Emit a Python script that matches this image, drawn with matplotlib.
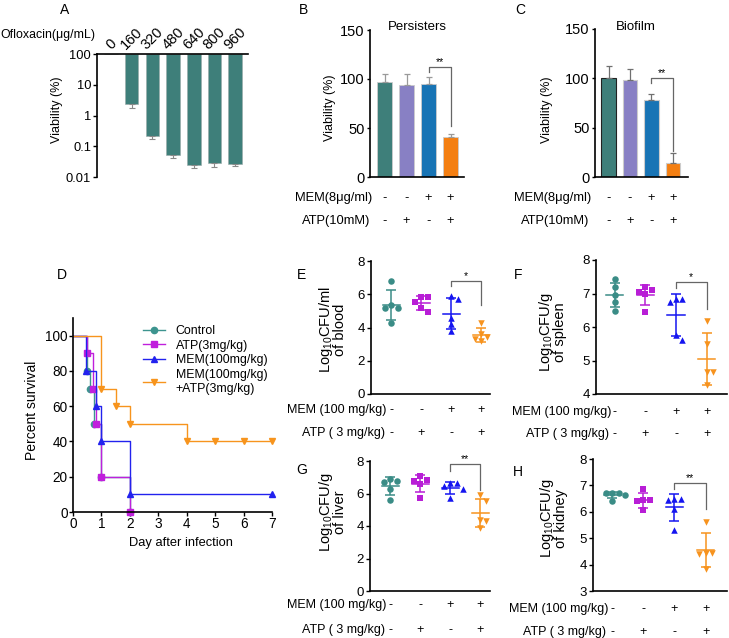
import numpy as np
import matplotlib
matplotlib.use('Agg')
import matplotlib.pyplot as plt
import matplotlib.transforms as mtransforms
from matplotlib.lines import Line2D

plt.rcParams['font.family'] = ['Liberation Sans', 'DejaVu Sans']
plt.rcParams['font.size'] = 9
plt.rcParams['mathtext.fontset'] = 'custom'
plt.rcParams['mathtext.rm'] = 'Liberation Sans'
plt.rcParams['mathtext.it'] = 'Liberation Sans:italic'
plt.rcParams['axes.linewidth'] = 1.2
for a in ('xtick', 'ytick'):
    plt.rcParams[a + '.major.width'] = 1.0
    plt.rcParams[a + '.major.size'] = 3.0
    plt.rcParams[a + '.direction'] = 'out'
    plt.rcParams[a + '.major.pad'] = 1.2

# ---------------- DATA ----------------
# Panel A
oflox_conc = ['0', '160', '320', '480', '640', '800', '960']
oflox_viab = [100, 2.3, 0.21, 0.051, 0.0245, 0.028, 0.026]
oflox_low = [100, 1.75, 0.17, 0.043, 0.019, 0.021, 0.022]

# Panels B, C
pers_viab = [97, 93.6, 95.3, 40.8]
pers_err = [8.5, 11.2, 6.7, 2.7]
bio_viab = [100.3, 98, 77.7, 14.2]
bio_err = [12.7, 11, 6.1, 10.1]
mem_signs = ['-', '-', '+', '+']
atp_signs = ['-', '+', '-', '+']

# Panel D (Kaplan-Meier)
km_labels = ['Control', 'ATP(3mg/kg)', 'MEM(100mg/kg)', 'MEM(100mg/kg)\n+ATP(3mg/kg)']
ctrl_t = [0, 0.5, 0.6, 0.75, 1, 2]
ctrl_s = [100, 80, 70, 50, 20, 0]
atp_t = [0, 0.5, 0.72, 0.82, 1, 2]
atp_s = [100, 90, 70, 50, 20, 0]
mem_t = [0, 0.45, 0.8, 1, 2, 7]
mem_s = [100, 80, 60, 40, 10, 10]
combo_t = [0, 1, 1.5, 2, 4, 5, 6, 7]
combo_s = [100, 70, 60, 50, 40, 40, 40, 40]

# Panels E-H (log10 CFU, 5 mice per group)
blood = [[6.78, 5.35, 5.15, 5.15, 4.3],
         [5.85, 5.85, 5.55, 5.15, 4.95],
         [5.9, 5.7, 4.6, 4.2, 3.8],
         [4.3, 3.6, 3.4, 3.3, 3.2]]
spleen = [[7.43, 7.18, 6.95, 6.76, 6.48],
          [7.2, 7.1, 7.05, 7.0, 6.45],
          [6.85, 6.85, 6.75, 5.75, 5.6],
          [6.18, 5.5, 4.65, 4.65, 4.27]]
liver = [[6.9, 6.8, 6.7, 6.3, 5.6],
         [7.05, 6.85, 6.75, 6.6, 5.7],
         [6.65, 6.65, 6.45, 6.3, 5.75],
         [5.9, 5.55, 4.35, 4.3, 3.9]]
kidney = [[6.72, 6.72, 6.7, 6.62, 6.42],
          [6.85, 6.45, 6.45, 6.4, 6.05],
          [6.5, 6.5, 6.45, 6.1, 5.3],
          [5.62, 4.45, 4.45, 4.4, 3.85]]
mouse_mem_signs = ['-', '-', '+', '+']
mouse_atp_signs = ['-', '+', '-', '+']

# ---------------- STYLE ----------------
bar_cols = ['#3e7f7a', '#8880c4', '#1874b5', '#f47f12']
km_cols = ['#3d948f', '#c01fdc', '#2222ee', '#f7941d']
km_markers = ['o', 's', '^', 'v']
sc_cols = ['#3a8c86', '#b81ed6', '#1515f0', '#f7931e']
sc_markers = ['o', 's', '^', 'v']

W, H = 729, 638
fig = plt.figure(figsize=(W / 100, H / 100), dpi=100)


def add_ax(l, t, r, b):
    return fig.add_axes([l / W, 1 - b / H, (r - l) / W, (b - t) / H])


def ftext(x, y, s, **kw):
    return fig.text(x / W, 1 - y / H, s, **kw)


def style(ax):
    ax.spines['top'].set_visible(False)
    ax.spines['right'].set_visible(False)


def bracket(ax, x1, x2, ytop, yl, yr, txt):
    ax.plot([x1, x1, x2, x2], [yl, ytop, ytop, yr], color='#666666', lw=0.9,
            clip_on=False)
    ax.text((x1 + x2) / 2, ytop, txt, ha='center', va='bottom', fontsize=7.5)


def sign_rows(ax, rows, names, ys_px, label_right_px, fs=9):
    tr = mtransforms.blended_transform_factory(ax.transData, fig.transFigure)
    for signs, name, ypx, rpx in zip(rows, names, ys_px, label_right_px):
        ftext(rpx, ypx, name, ha='right', va='center', fontsize=fs)
        for i, s in enumerate(signs):
            ax.text(i, 1 - ypx / H, s, transform=tr, ha='center', va='center', fontsize=fs)


# ---------------- PANEL A ----------------
axA = add_ax(97, 54, 248, 177)
xA = np.arange(len(oflox_conc))
vA = np.array(oflox_viab)
axA.set_yscale('log')
axA.bar(xA, vA - 100, bottom=100, width=0.65, color=bar_cols[0],
        edgecolor='#9aa9a8', lw=0.4)
axA.errorbar(xA[1:], vA[1:], yerr=[vA[1:] - np.array(oflox_low[1:]), np.zeros(len(vA) - 1)],
             fmt='none', ecolor='#8a8a8a', elinewidth=0.8, capsize=2.5, capthick=0.8)
axA.set_ylim(0.01, 100)
axA.set_xlim(-0.68, 6.62)
axA.spines['bottom'].set_visible(False)
axA.spines['right'].set_visible(False)
axA.xaxis.tick_top()
axA.set_xticks(xA)
axA.set_xticklabels(oflox_conc, rotation=45, ha='center', va='bottom', fontsize=10.5)
axA.tick_params(axis='x', length=0, pad=1)
axA.set_yticks([0.01, 0.1, 1, 10, 100])
axA.set_yticklabels(['0.01', '0.1', '1', '10', '100'])
axA.yaxis.set_minor_locator(matplotlib.ticker.NullLocator())
axA.tick_params(axis='y', labelsize=9.3)
ftext(57, 110, 'Viability (%)', rotation=90, ha='center', va='center', fontsize=9)
ftext(95, 35, 'Ofloxacin(μg/mL)', ha='right', va='center', fontsize=8.9)
ftext(65, 10, 'A', ha='center', va='center', fontsize=10)

# ---------------- PANEL B ----------------
axB = add_ax(370, 30, 464, 177)
style(axB)
xB = np.arange(4)
axB.bar(xB, pers_viab, width=0.68, color=bar_cols, edgecolor='#cccccc', lw=0.6)
axB.errorbar(xB, pers_viab, yerr=[np.zeros(4), pers_err], fmt='none',
             ecolor='#9a9a9a', elinewidth=0.9, capsize=2.5, capthick=0.9)
axB.set_ylim(0, 150)
axB.set_xlim(-0.66, 3.61)
axB.set_yticks([0, 50, 100, 150])
axB.set_xticks([])
axB.tick_params(axis='y', labelsize=10.5, length=2.5)
bracket(axB, 2, 3, 112.5, 107, 52, '**')
ftext(330, 108, 'Viability (%)', rotation=90, ha='center', va='center', fontsize=9)
ftext(417, 27, 'Persisters', ha='center', va='center', fontsize=9.5)
ftext(303, 10, 'B', ha='center', va='center', fontsize=10)
sign_rows(axB, [mem_signs, atp_signs], ['MEM(8μg/ml)', 'ATP(10mM)'], [198, 221], [372, 370], fs=9.3)

# ---------------- PANEL C ----------------
axC = add_ax(595, 29, 688, 177)
style(axC)
axC.bar(xB, bio_viab, width=0.68, color=bar_cols,
        edgecolor=['#222222', '#cccccc', '#cccccc', '#cccccc'], lw=0.8)
axC.errorbar(xB, bio_viab, yerr=[np.zeros(4), bio_err], fmt='none',
             ecolor='#707070', elinewidth=0.9, capsize=2.5, capthick=0.9)
axC.set_ylim(0, 150)
axC.set_xlim(-0.63, 3.7)
axC.set_yticks([0, 50, 100, 150])
axC.set_xticks([])
axC.tick_params(axis='y', labelsize=10.5, length=2.5)
bracket(axC, 2, 3, 100.3, 95, 26, '**')
ftext(547, 110, 'Viability (%)', rotation=90, ha='center', va='center', fontsize=9)
ftext(636, 27, 'Biofilm', ha='center', va='center', fontsize=9.5)
ftext(520, 10, 'C', ha='center', va='center', fontsize=10)
sign_rows(axC, [mem_signs, atp_signs], ['MEM(8μg/ml)', 'ATP(10mM)'], [198, 221], [591, 589], fs=9.3)

# ---------------- PANEL D ----------------
axD = add_ax(73, 318, 272, 512)
style(axD)
handles = []
for t, s, c, m, lab in zip([ctrl_t, atp_t, mem_t, combo_t], [ctrl_s, atp_s, mem_s, combo_s],
                           km_cols, km_markers, km_labels):
    axD.step(t, s, where='post', color=c, lw=1.0, clip_on=False)
    axD.plot(t[1:], s[1:], ls='none', marker=m, color=c, ms=4.5, clip_on=False)
    handles.append(Line2D([], [], color=c, lw=1.0, marker=m, ms=4.5))
axD.set_xlim(0, 7)
axD.set_ylim(0, 110)
axD.set_xticks(range(8))
axD.set_yticks(range(0, 101, 20))
axD.tick_params(labelsize=9.8, pad=0.8)
axD.legend(handles, km_labels, loc='upper left', bbox_to_anchor=(143 / W, 1 - 325 / H),
           bbox_transform=fig.transFigure, frameon=False, fontsize=8.9,
           handlelength=1.8, handletextpad=0.85, labelspacing=0.22, borderpad=0,
           borderaxespad=0)
ftext(32, 410, 'Percent survival', rotation=90, ha='center', va='center', fontsize=10)
ftext(181, 543, 'Day after infection', ha='center', va='center', fontsize=9.3)
ftext(62, 275, 'D', ha='center', va='center', fontsize=10)


# ---------------- PANELS E-H ----------------
def swarm_x(ax, xc, vals, d_px=6.4):
    pts = ax.transData.transform(np.column_stack([np.full(len(vals), xc), vals]))
    order = np.argsort(-np.asarray(vals))
    placed = []
    xs = np.zeros(len(vals))
    for i in order:
        y = pts[i, 1]
        chosen = pts[i, 0]
        for k in [0, 1, -1, 2, -2, 3, -3]:
            cand = pts[i, 0] + k * d_px
            if all((cand - px) ** 2 + (y - py) ** 2 >= (d_px * 0.95) ** 2 for px, py in placed):
                chosen = cand
                break
        placed.append((chosen, y))
        xs[i] = chosen
    back = ax.transData.inverted().transform(np.column_stack([xs, pts[:, 1]]))
    return back[:, 0]


def dot_panel(box, data, ylim, yticks, xlim, ylab, ylab_xy, letter, letter_xy,
              brk, star, rows_y, rows_right):
    ax = add_ax(*box)
    style(ax)
    ax.set_xlim(*xlim)
    ax.set_ylim(*ylim)
    ax.set_yticks(yticks)
    ax.set_xticks([])
    ax.tick_params(labelsize=9.5)
    for i, vals in enumerate(data):
        vals = np.asarray(vals)
        xs = swarm_x(ax, i, vals)
        ax.scatter(xs, vals, s=22, marker=sc_markers[i], color=sc_cols[i], zorder=3,
                   linewidths=0)
        m = vals.mean()
        sd = vals.std(ddof=1)
        ax.plot([i - 0.28, i + 0.28], [m, m], color=sc_cols[i], lw=1.1, zorder=4)
        ax.errorbar([i], [m], yerr=[[sd], [sd]], fmt='none', ecolor=sc_cols[i],
                    elinewidth=1.1, capsize=3.5, capthick=1.1, zorder=4)
    bracket(ax, 2, 3, brk[0], brk[1], brk[2], star)
    ftext(*ylab_xy, ylab, rotation=90, ha='center', va='center', linespacing=0.9,
          multialignment='center', fontsize=10.5)
    ftext(*letter_xy, letter, ha='center', va='center', fontsize=10)
    sign_rows(ax, [mouse_mem_signs, mouse_atp_signs], ['MEM (100 mg/kg)', 'ATP ( 3 mg/kg)'],
              rows_y, rows_right, fs=9)
    return ax


dot_panel((371, 261, 490, 394), blood, (0, 8), [0, 2, 4, 6, 8], (-0.68, 3.3),
          'Log$_{10}$CFU/ml\nof blood', (332, 330), 'E', (302, 275),
          (6.8, 6.5, 5.34), '*', [410, 433], [386, 385])
dot_panel((596, 260, 727, 394), spleen, (4, 8), [4, 5, 6, 7, 8], (-0.62, 3.67),
          'Log$_{10}$CFU/g\nof spleen', (552, 332), 'F', (518, 275),
          (7.33, 7.15, 6.55), '*', [412, 434], [611, 609])
dot_panel((370, 461, 490, 591), liver, (0, 8), [0, 2, 4, 6, 8], (-0.67, 3.33),
          'Log$_{10}$CFU/g\nof liver', (332, 512), 'G', (302, 470),
          (7.8, 7.38, 6.2), '**', [605, 630], [386, 385])
dot_panel((593, 459, 727, 591), kidney, (3, 8), [3, 4, 5, 6, 7, 8], (-0.62, 3.69),
          'Log$_{10}$CFU/g\nof kidney', (553, 518), 'H', (518, 472),
          (7.08, 6.86, 6.09), '**', [609, 632], [608, 606])

fig.savefig('out.png', dpi=100)
